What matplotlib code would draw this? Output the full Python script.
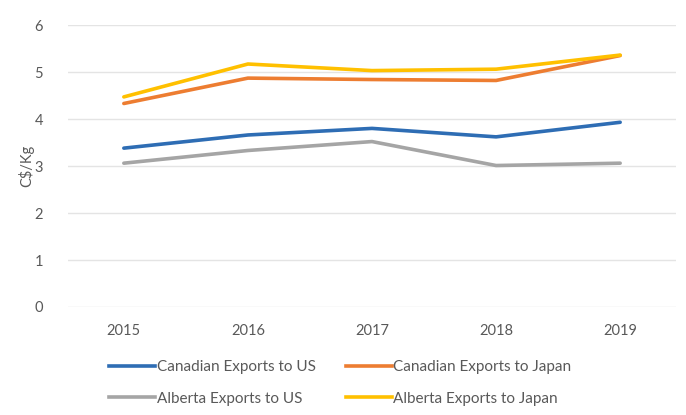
import matplotlib
matplotlib.use("Agg")
import matplotlib.pyplot as plt
from matplotlib.lines import Line2D

years = ["2015", "2016", "2017", "2018", "2019"]
canadian_us = [3.38, 3.66, 3.80, 3.62, 3.93]
canadian_japan = [4.33, 4.87, 4.84, 4.82, 5.35]
alberta_us = [3.06, 3.33, 3.52, 3.01, 3.06]
alberta_japan = [4.47, 5.17, 5.03, 5.06, 5.36]
series_names = ["Canadian Exports to US", "Canadian Exports to Japan",
                "Alberta Exports to US", "Alberta Exports to Japan"]
colors = ["#2e6db4", "#ed7d31", "#a5a5a5", "#ffc000"]
yticks = [0, 1, 2, 3, 4, 5, 6]

plt.rcParams['font.family'] = ['Lato', 'DejaVu Sans']
fig = plt.figure(figsize=(6.86, 4.15), dpi=100)
ax = fig.add_axes([68/686, 1-307/415, (676-68)/686, (307-25)/415])

x = list(range(len(years)))
data = [canadian_us, canadian_japan, alberta_us, alberta_japan]
for vals, c, name in zip(data, colors, series_names):
    ax.plot(x, vals, color=c, lw=2.6, solid_capstyle='round', label=name)

ax.set_xlim(-0.45, 4.45)
ax.set_ylim(0, 6)
ax.set_yticks(yticks)
ax.set_yticklabels([str(v) for v in yticks])
ax.set_xticks(x)
ax.set_xticklabels(years)
ax.grid(axis='y', color='#e4e4e4', lw=1)
ax.set_axisbelow(True)
for s in ax.spines.values():
    s.set_visible(False)
ax.tick_params(axis='both', length=0, colors='#595959', labelsize=10.5)
ax.tick_params(axis='y', pad=18)
ax.tick_params(axis='x', pad=12)
ax.set_ylabel("C$/Kg", color='#595959', fontsize=10.5, labelpad=0)

# legend filled row by row (matplotlib fills column-major)
order = [0, 2, 1, 3]
handles = [Line2D([0], [0], color=colors[i], lw=2.6) for i in order]
labels = [series_names[i] for i in order]
leg = fig.legend(handles, labels, loc='lower left', ncol=2,
                 bbox_to_anchor=(100/686, 0.0), frameon=False,
                 fontsize=11, labelcolor='#595959', handlelength=3.0,
                 handletextpad=0.1, columnspacing=2.0, labelspacing=1.15,
                 borderaxespad=0.2)

fig.savefig("out.png", dpi=100)
